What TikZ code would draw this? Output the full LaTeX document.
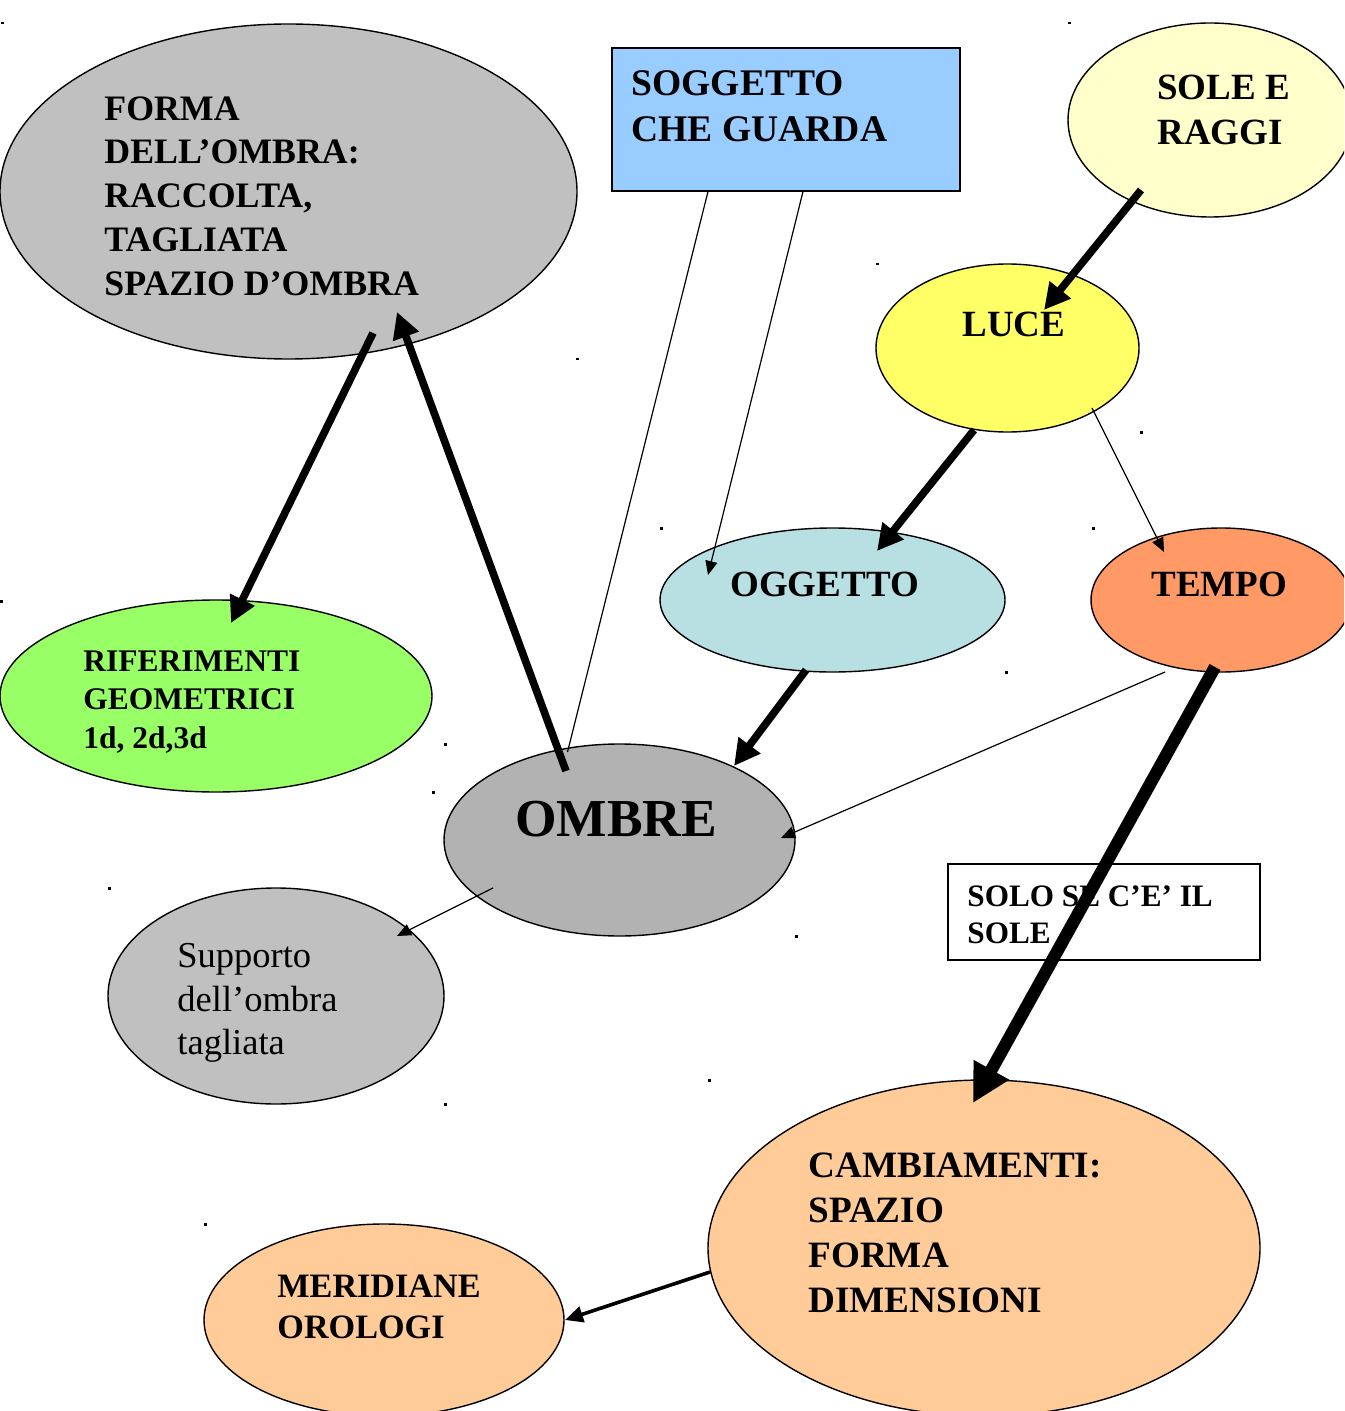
\documentclass[tikz,border=0pt]{standalone}
\usepackage{fontspec}
\setmainfont{Liberation Serif}
\usetikzlibrary{shapes.geometric,arrows.meta,calc}
\definecolor{cForma}{HTML}{C0C0C0}
\definecolor{cSogg}{HTML}{99CCFF}
\definecolor{cSole}{HTML}{FFFFCC}
\definecolor{cLuce}{HTML}{FFFF66}
\definecolor{cOgg}{HTML}{B8DFE2}
\definecolor{cTempo}{HTML}{FF9966}
\definecolor{cRif}{HTML}{99FF66}
\definecolor{cOmbre}{HTML}{B2B2B2}
\definecolor{cSupp}{HTML}{C0C0C0}
\definecolor{cCamb}{HTML}{FFCC99}
\begin{document}
\begin{tikzpicture}[x=0.5pt,y=-0.5pt,
  ell/.style={ellipse, draw=black, line width=0.7pt, inner sep=0pt},
  rectbox/.style={rectangle, draw=black, line width=1pt, inner sep=0pt},
  txt/.style={anchor=north west, align=left, inner sep=0pt},
  thinarr/.style={line width=0.6pt, -{Triangle[length=7pt,width=6pt]}},
  thinline/.style={line width=0.6pt},
  thickarr/.style={line width=3.8pt, -{Triangle[length=13pt,width=13pt]}},
  hugearr/.style={line width=6.2pt, -{Triangle[length=19pt,width=19pt]}},
  medarr/.style={line width=1.8pt, -{Triangle[length=9pt,width=8pt]}},
  straydot/.style={fill=black}]
\useasboundingbox (0,0) rectangle (1344,1411);
\clip (0,0) rectangle (1344,1411);
\fill[white] (0,0) rectangle (1344,1411);

% shapes
\node[ell, fill=cForma, minimum width=288.5pt, minimum height=167.5pt] (forma) at (288.5,191.5) {};
\node[rectbox, fill=cSogg, minimum width=174pt, minimum height=71.5pt] (sogg) at (786,119.5) {};
\node[ell, fill=cSole, minimum width=142pt, minimum height=97pt] (sole) at (1210,120) {};
\node[ell, fill=cLuce, minimum width=131.5pt, minimum height=84pt] (luce) at (1007.5,348) {};
\node[ell, fill=cOgg, minimum width=172.5pt, minimum height=72pt] (ogg) at (832.5,600) {};
\node[ell, fill=cTempo, minimum width=130pt, minimum height=72pt] (tempo) at (1221,600) {};
\node[ell, fill=cRif, minimum width=216pt, minimum height=96pt] (rif) at (216,696) {};
\node[ell, fill=cOmbre, minimum width=175.5pt, minimum height=96pt] (ombre) at (619.5,840) {};
\node[ell, fill=cSupp, minimum width=168pt, minimum height=108pt] (supp) at (276,996) {};
\node[rectbox, fill=white, minimum width=156pt, minimum height=48pt] (solo) at (1104,912) {};
\node[ell, fill=cCamb, minimum width=276pt, minimum height=168pt] (camb) at (984,1248) {};
\node[ell, fill=cCamb, minimum width=180pt, minimum height=96pt] (mer) at (384,1320) {};

% texts
\node[txt, font=\fontsize{17.9pt}{21.9pt}\selectfont\bfseries] (formaT) at (104,96)
  {FORMA\\DELL’OMBRA:\\RACCOLTA,\\TAGLIATA\\SPAZIO D’OMBRA};
\node[txt, font=\fontsize{18.8pt}{23pt}\selectfont\bfseries] (soggT) at (631,70)
  {SOGGETTO\\CHE GUARDA};
\node[txt, font=\fontsize{18.5pt}{22.5pt}\selectfont\bfseries] (soleT) at (1157,75)
  {SOLE E\\RAGGI};
\node[txt, font=\fontsize{18.5pt}{22.5pt}\selectfont\bfseries] (luceT) at (962,312) {LUCE};
\node[txt, font=\fontsize{18.5pt}{22.5pt}\selectfont\bfseries] (oggT) at (730,572) {OGGETTO};
\node[txt, font=\fontsize{18.5pt}{22.5pt}\selectfont\bfseries] (tempoT) at (1151,572) {TEMPO};
\node[txt, font=\fontsize{15.75pt}{19.25pt}\selectfont\bfseries] (rifT) at (83,650)
  {RIFERIMENTI\\GEOMETRICI\\1d, 2d,3d};
\node[txt, font=\fontsize{26.7pt}{30pt}\selectfont\bfseries] (ombreT) at (515,801) {OMBRE};
\node[txt, font=\fontsize{18.25pt}{21.75pt}\selectfont] (suppT) at (177,943)
  {Supporto\\dell’ombra\\tagliata};
\node[txt, font=\fontsize{15.6pt}{18.5pt}\selectfont\bfseries] (soloT) at (967,885)
  {SOLO SE C’E’ IL\\SOLE};
\node[txt, font=\fontsize{18.6pt}{22.5pt}\selectfont\bfseries] (cambT) at (808,1152)
  {CAMBIAMENTI:\\SPAZIO\\FORMA\\DIMENSIONI};
\node[txt, font=\fontsize{17.1pt}{20.5pt}\selectfont\bfseries] (merT) at (277,1275)
  {MERIDIANE\\OROLOGI};

% connectors
\draw[thinline] ($(sogg)+(-78,72)$) -- ($(ombre)+(-52,-88)$);
\draw[thinarr] ($(sogg)+(17,72)$) -- ($(ogg)+(-124.5,-25)$);
\draw[thinarr] ($(luce)+(84.5,60)$) -- ($(tempo)+(-57,-48)$);
\draw[thinarr] ($(tempo)+(-56,72)$) -- ($(ombre)+(161.5,-2)$);
\draw[thinarr] ($(ombre)+(-126.5,48)$) -- ($(supp)+(121,-60)$);
\draw[thickarr] ($(sole)+(-69,70)$) -- ($(luce)+(36.5,-38)$);
\draw[thickarr] ($(luce)+(-33.5,82)$) -- ($(ogg)+(44.5,-49)$);
\draw[thickarr] ($(forma)+(84.5,141.5)$) -- ($(rif)+(15,-73)$);
\draw[thickarr] ($(ombre)+(-53.5,-69)$) -- ($(forma)+(108.5,120.5)$);
\draw[thickarr] ($(ogg)+(-26.5,70)$) -- ($(ombre)+(114.5,-74)$);
\draw[hugearr] ($(tempo)+(-6,67)$) -- ($(camb)+(-11,-145)$);
\draw[medarr] ($(camb)+(-274,24)$) -- ($(mer)+(181,0)$);

% stray marks
\foreach \p in {(1,22),(1068,22),(576,358),(876,263),(1140,431),(660,527),(1092,527),(1005,671),(0,600),(444,743),(432,791),(108,887),(795,935),(708,1079),(444,1103),(204,1223)}
  \fill[straydot] \p rectangle ++(2.5,2.5);
\end{tikzpicture}
\end{document}
